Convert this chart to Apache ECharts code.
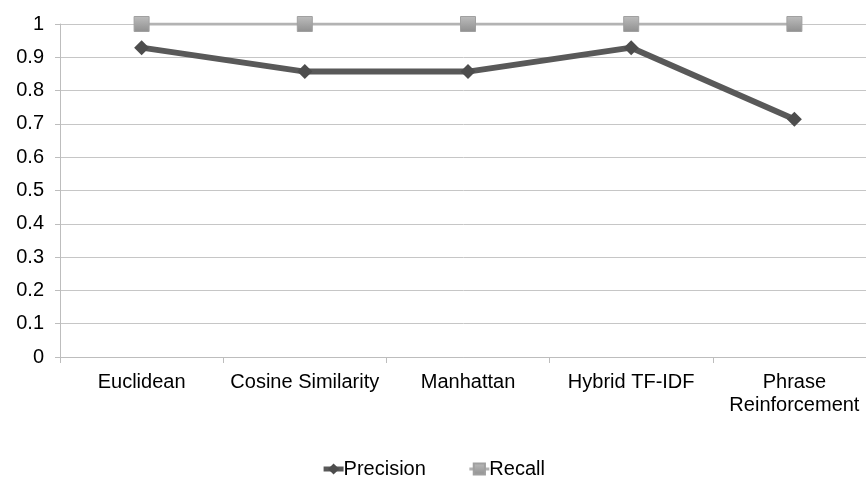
<!DOCTYPE html>
<html>
<head>
<meta charset="utf-8">
<style>
  html, body { margin: 0; padding: 0; background: #ffffff; }
  #chart { width: 866px; height: 478px; }
</style>
<script src="https://cdn.jsdelivr.net/npm/echarts@6/dist/echarts.min.js"></script>
</head>
<body>
<div id="chart"></div>
<script>
// Retrieval methods compared on precision and recall
const categories = ['Euclidean', 'Cosine Similarity', 'Manhattan', 'Hybrid TF-IDF', 'Phrase\nReinforcement'];
const precision = [0.929, 0.857, 0.857, 0.929, 0.714];
const recall = [1, 1, 1, 1, 1];
const yTicks = { min: 0, max: 1, interval: 0.1 };

const font = 'Liberation Sans, Arial, sans-serif';
const chart = echarts.init(document.getElementById('chart'), null, { renderer: 'canvas' });

chart.setOption({
  backgroundColor: '#ffffff',
  animation: false,
  grid: { left: 60, top: 24, width: 816, height: 333, outerBoundsMode: 'none' },
  legend: {
    top: 454,
    left: 'center',
    itemWidth: 20,
    itemHeight: 14,
    itemGap: 42,
    textStyle: { fontFamily: font, fontSize: 20, color: '#000000', padding: [0, 0, 0, -5] },
    data: [
      { name: 'Precision', lineStyle: { width: 5, color: '#595959' } },
      { name: 'Recall', lineStyle: { width: 3, color: '#b3b3b3' } }
    ]
  },
  xAxis: {
    type: 'category',
    data: categories,
    boundaryGap: true,
    axisLine: { lineStyle: { color: '#bdbdbd', width: 1 } },
    axisTick: { show: true, length: 6, lineStyle: { color: '#bdbdbd' } },
    axisLabel: {
      interval: 0,
      margin: 14,
      fontFamily: font,
      fontSize: 20,
      color: '#000000',
      lineHeight: 23,
      align: 'center'
    },
    splitLine: { show: false }
  },
  yAxis: {
    type: 'value',
    min: yTicks.min,
    max: yTicks.max,
    interval: yTicks.interval,
    axisLine: { show: true, lineStyle: { color: '#bdbdbd', width: 1 } },
    axisTick: { show: true, length: 5, lineStyle: { color: '#bdbdbd' } },
    axisLabel: {
      margin: 16,
      fontFamily: font,
      fontSize: 20,
      color: '#000000',
      formatter: v => String(Math.round(v * 10) / 10)
    },
    splitLine: { show: true, lineStyle: { color: '#c6c6c6', width: 1 } }
  },
  series: [
    {
      name: 'Recall',
      type: 'line',
      data: recall,
      symbol: 'rect',
      symbolSize: 15,
      z: 2,
      lineStyle: { color: '#b3b3b3', width: 3 },
      itemStyle: {
        color: new echarts.graphic.LinearGradient(0, 0, 0, 1, [
          { offset: 0, color: '#bdbdbd' },
          { offset: 1, color: '#8f8f8f' }
        ]),
        borderColor: '#a0a0a0',
        borderWidth: 1
      }
    },
    {
      name: 'Precision',
      type: 'line',
      data: precision,
      symbol: 'diamond',
      symbolSize: 15,
      z: 3,
      lineStyle: { color: '#595959', width: 6 },
      itemStyle: { color: '#4d4d4d' }
    }
  ]
});
</script>
</body>
</html>
